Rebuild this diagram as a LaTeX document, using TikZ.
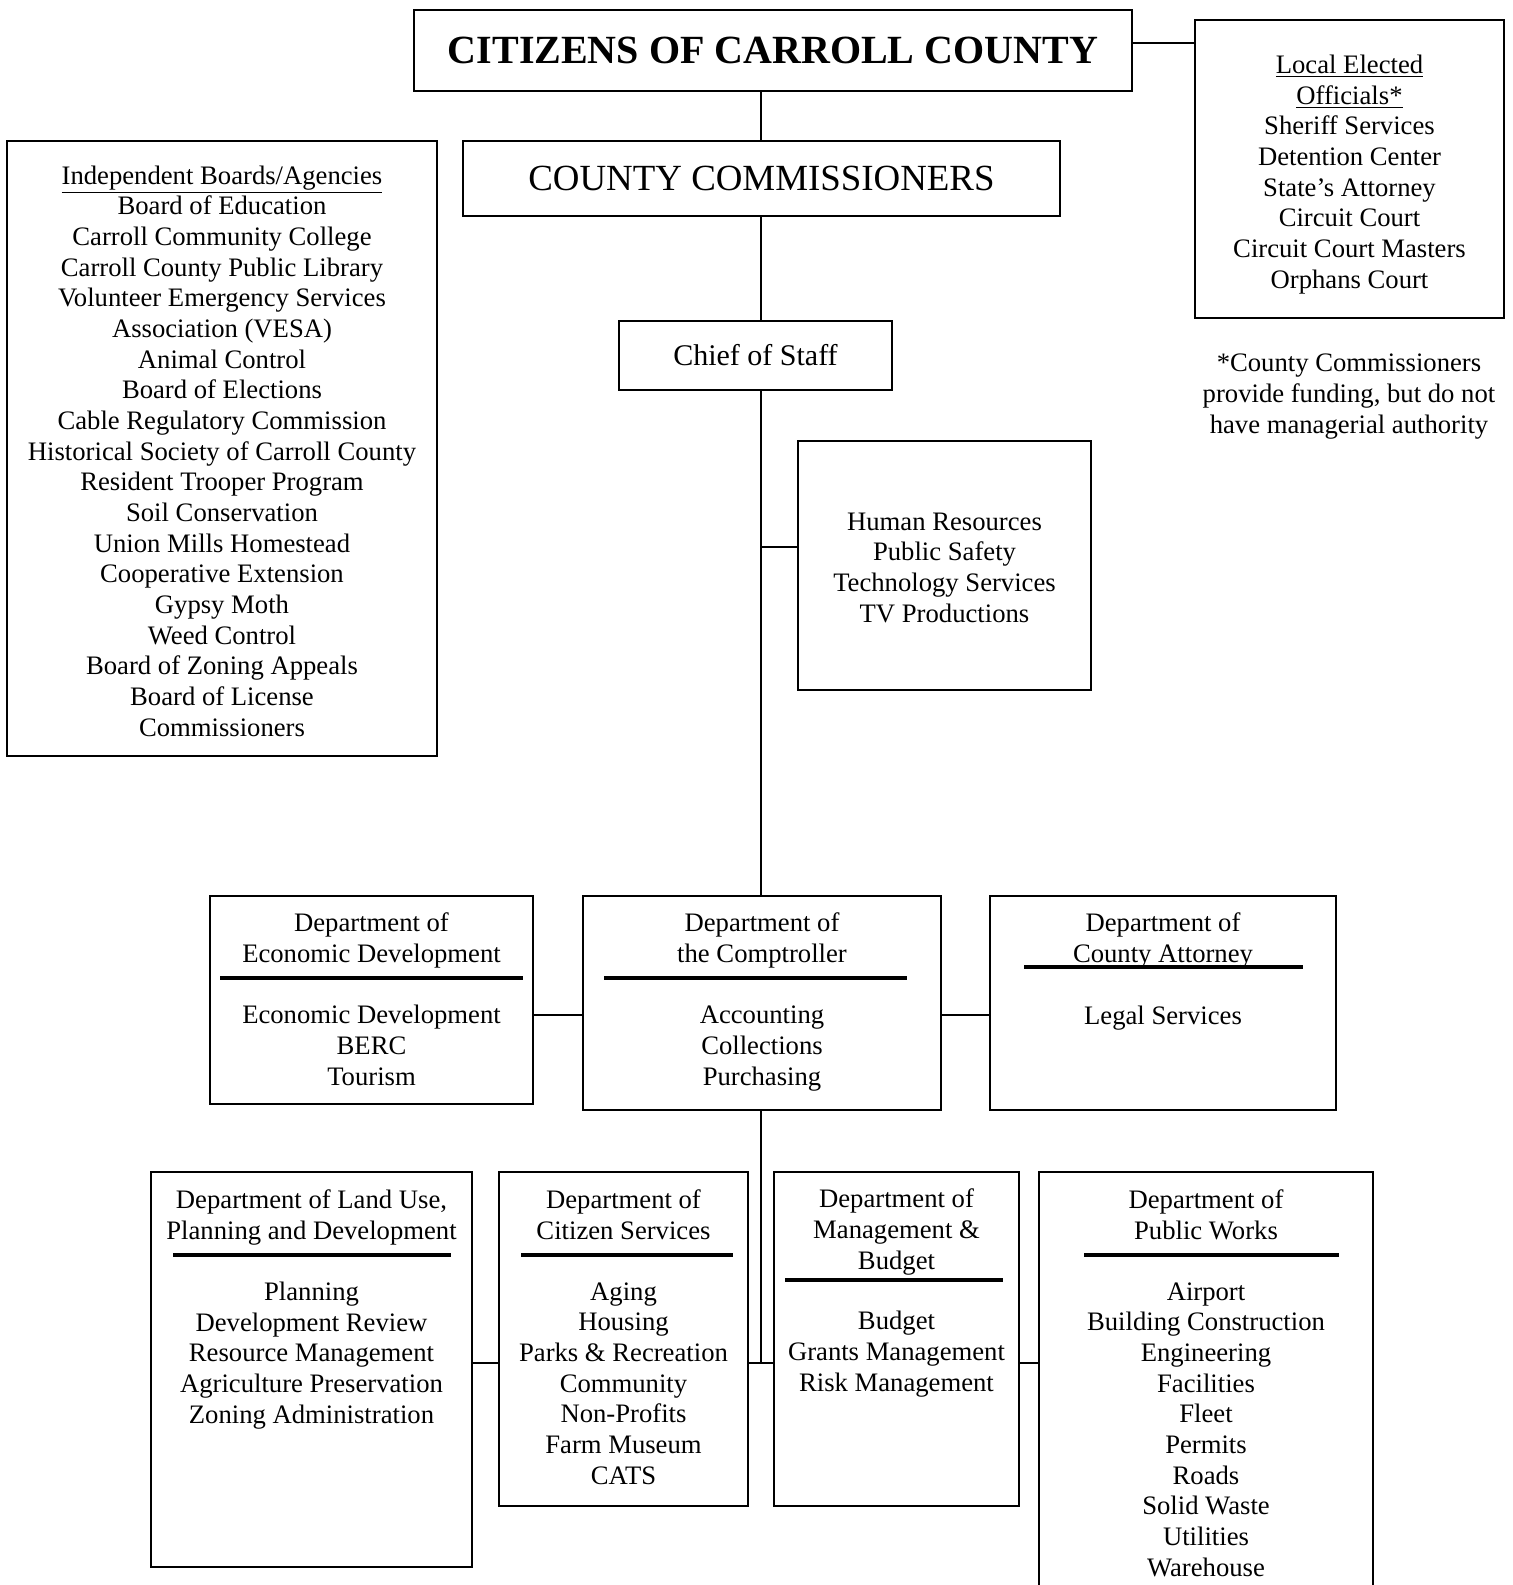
\documentclass[tikz,border=0pt]{standalone}
\usepackage{fontspec}
\setmainfont{Liberation Serif}
\tikzset{
  frame/.style={draw, line width=0.9pt, inner sep=0pt},
  size/.style 2 args={minimum width=#1*0.45pt, minimum height=#2*0.45pt},
  list/.style={font=\fontsize{12}{13.8}\selectfont, align=center, anchor=base, inner sep=0pt},
  rule/.style={line width=1.4pt},
  link/.style={line width=0.9pt},
}

\begin{document}
\begin{tikzpicture}[x=0.45pt,y=-0.45pt]
        \clip (0,0) rectangle (1513,1585);
        % top of the chart (list nodes sit on the baseline of their last line)
        \node[frame, size={718}{81}, font=\fontsize{18}{20}\selectfont\bfseries] (cit) at (773,50.5) {CITIZENS OF CARROLL COUNTY};
        \node[frame, size={597}{75}, font=\fontsize{16.6}{18}\selectfont] (cc) at (761.5,178.5) {COUNTY COMMISSIONERS};
        \node[frame, size={273}{69}, font=\fontsize{13.5}{15}\selectfont] (chief) at (755.5,355.5) {Chief of Staff};
        \node[frame, size={309}{298}] (local) at (1349.5,169) {};
        \node[frame, size={430}{615}] (indep) at (222,448.5) {};
        \node[frame, size={293}{249}] (hr) at (944.5,565.5) {};
        \node[list] (local-list) at (local.north |- 0,288) {\underline{Local Elected}\\\underline{Officials*}\\Sheriff Services\\Detention Center\\State’s Attorney\\Circuit Court\\Circuit Court Masters\\Orphans Court};
        \node[list] (note) at (1349,433) {*County Commissioners\\provide funding, but do not\\have managerial authority};
        \node[list] (indep-list) at (indep.north |- 0,736) {\underline{Independent Boards/Agencies}\\Board of Education\\Carroll Community College\\Carroll County Public Library\\Volunteer Emergency Services\\Association (VESA)\\Animal Control\\Board of Elections\\Cable Regulatory Commission\\Historical Society of Carroll County\\Resident Trooper Program\\Soil Conservation\\Union Mills Homestead\\Cooperative Extension\\Gypsy Moth\\Weed Control\\Board of Zoning Appeals\\Board of License\\Commissioners};
        \node[list] (hr-list) at (hr.north |- 0,622) {Human Resources\\Public Safety\\Technology Services\\TV Productions};
        % middle row
        \node[frame, size={323}{208}] (econ) at (371.5,1000) {};
        \node[frame, size={358}{214}] (comp) at (762,1003) {};
        \node[frame, size={346}{214}] (atty) at (1163,1003) {};
        \node[list] (econ-head) at (econ.north |- 0,962) {Department of\\Economic Development};
        \node[list] (econ-list) at (econ.north |- 0,1085) {Economic Development\\BERC\\Tourism};
        \node[list] (comp-head) at (comp.north |- 0,962) {Department of\\the Comptroller};
        \node[list] (comp-list) at (comp.north |- 0,1085) {Accounting\\Collections\\Purchasing};
        \node[list] (atty-head) at (atty.north |- 0,962) {Department of\\County Attorney};
        \node[list] (atty-list) at (atty.north |- 0,1024) {Legal Services};
        \draw[rule] (220,978) -- (523,978);
        \draw[rule] (604,978) -- (907,978);
        \draw[rule] (1024,967) -- (1303,967);
        % bottom row
        \node[frame, size={321}{395}] (land) at (311.5,1369.5) {};
        \node[frame, size={249}{334}] (csvc) at (623.5,1339) {};
        \node[frame, size={245}{334}] (mb) at (896.5,1339) {};
        \node[frame, size={334}{428}] (pw) at (1206,1386) {};
        \node[list] (land-head) at (land.north |- 0,1239) {Department of Land Use,\\Planning and Development};
        \node[list] (land-list) at (land.north |- 0,1423) {Planning\\Development Review\\Resource Management\\Agriculture Preservation\\Zoning Administration};
        \node[list] (csvc-head) at (csvc.north |- 0,1239) {Department of\\Citizen Services};
        \node[list] (csvc-list) at (csvc.north |- 0,1484) {Aging\\Housing\\Parks \& Recreation\\Community\\Non-Profits\\Farm Museum\\CATS};
        \node[list] (mb-head) at (mb.north |- 0,1269) {Department of\\Management \&\\Budget};
        \node[list] (mb-list) at (mb.north |- 0,1391) {Budget\\Grants Management\\Risk Management};
        \node[list] (pw-head) at (pw.north |- 0,1239) {Department of\\Public Works};
        \node[list] (pw-list) at (pw.north |- 0,1576) {Airport\\Building Construction\\Engineering\\Facilities\\Fleet\\Permits\\Roads\\Solid Waste\\Utilities\\Warehouse};
        \draw[rule] (173,1255) -- (451,1255);
        \draw[rule] (521,1255) -- (733,1255);
        \draw[rule] (785,1280) -- (1003,1280);
        \draw[rule] (1084,1255) -- (1339,1255);
        % connectors
        \coordinate (spine) at (761,0);
        \coordinate (top-link) at (0,43);
        \coordinate (hr-link) at (0,547);
        \coordinate (mid-link) at (0,1015);
        \coordinate (low-link) at (0,1363);
        \draw[link] (cit.east |- top-link) -- (local.west |- top-link);
        \draw[link] (spine |- cit.south) -- (spine |- cc.north);
        \draw[link] (spine |- cc.south) -- (spine |- chief.north);
        \draw[link] (spine |- chief.south) -- (spine |- comp.north);
        \draw[link] (spine |- hr-link) -- (hr.west |- hr-link);
        \draw[link] (econ.east |- mid-link) -- (comp.west |- mid-link);
        \draw[link] (comp.east |- mid-link) -- (atty.west |- mid-link);
        \draw[link] (spine |- comp.south) -- (spine |- low-link);
        \draw[link] (land.east |- low-link) -- (csvc.west |- low-link);
        \draw[link] (csvc.east |- low-link) -- (mb.west |- low-link);
        \draw[link] (mb.east |- low-link) -- (pw.west |- low-link);
\end{tikzpicture}
\end{document}
